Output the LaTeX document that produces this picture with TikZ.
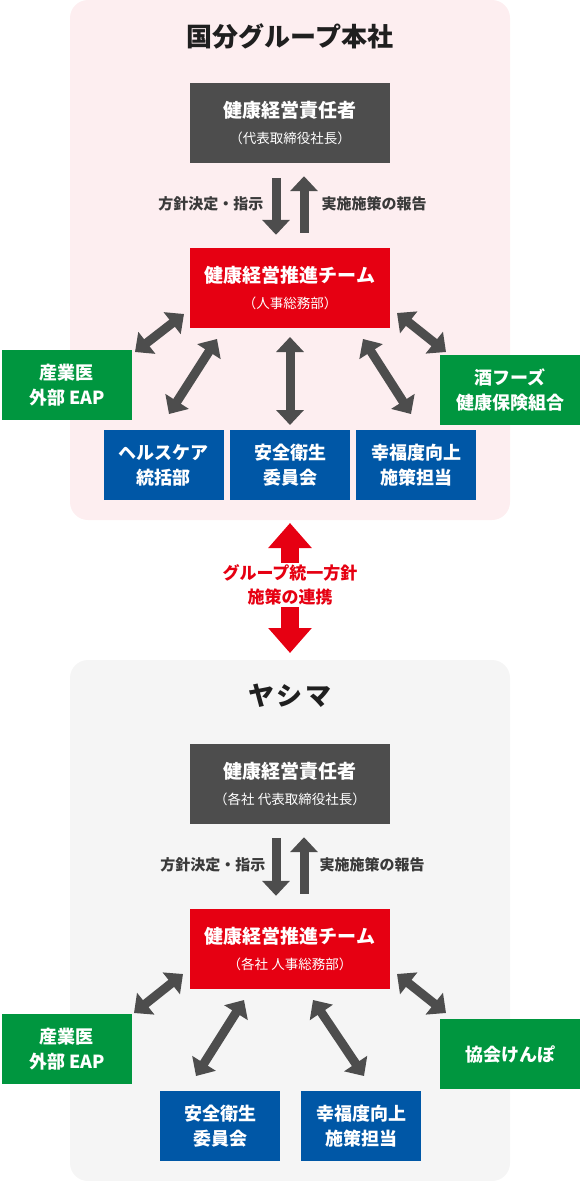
\documentclass[tikz,border=0pt]{standalone}
\usepackage{fontspec}
\setmainfont{Noto Sans CJK JP}
\usepackage{xcolor}
\usepackage{tikz}
\usetikzlibrary{arrows.meta}
\usetikzlibrary{positioning}

\definecolor{hqbg}{HTML}{FDEEF0}
\definecolor{yabg}{HTML}{F5F5F5}
\definecolor{boss}{HTML}{4D4D4D}
\definecolor{teamred}{HTML}{E60012}
\definecolor{outgreen}{HTML}{00963F}
\definecolor{unitblue}{HTML}{0057A6}
\definecolor{notegray}{HTML}{3A3A3A}

\newcommand{\subline}[1]{{\fontsize{13.5}{26}\selectfont\mdseries #1}}

\begin{document}
\begin{tikzpicture}[x=1pt,y=-1pt,
	box/.style={rectangle,inner sep=0pt,minimum width=200pt,minimum height=80pt,align=center,text=white,font=\fontsize{19}{26}\selectfont\bfseries},
	headbox/.style={box,fill=boss},
	teambox/.style={box,fill=teamred},
	outbox/.style={box,fill=outgreen,minimum width=130pt,minimum height=70pt,font=\fontsize{18}{25}\selectfont\bfseries},
	unitbox/.style={box,fill=unitblue,minimum width=120pt,minimum height=70pt,font=\fontsize{18}{25}\selectfont\bfseries},
	tip/.tip={Triangle[width=27pt,length=15pt]},
	flow/.style={line width=9pt,draw=boss,-tip},
	both/.style={line width=9pt,draw=boss,tip-tip},
	title/.style={font=\fontsize{26}{30}\selectfont\bfseries,text=black!88},
	note/.style={font=\fontsize{15}{18}\selectfont\bfseries,text=notegray}]
	
	\useasboundingbox (0,0) rectangle (580,1181);
	
	% panels
	\fill[hqbg,rounded corners=18pt] (70,0) rectangle (510,520);
	\fill[yabg,rounded corners=18pt] (70,660) rectangle (510,1181);
	
	% head office
	\node[title] (hq) at (290,36) {国分グループ本社};
	\node[headbox] (ceo1) at (290,123) {健康経営責任者\\\subline{（代表取締役社長）}};
	\node[teambox] (team1) at (290,288) {健康経営推進チーム\\\subline{（人事総務部）}};
	\node[outbox] (eap1) at (67,385) {産業医\\外部 EAP};
	\node[outbox,minimum width=140pt] (union1) at (510,390) {酒フーズ\\健康保険組合};
	\node[unitbox] (safety1) at (290,465) {安全衛生\\委員会};
	\node[unitbox] (care1) [left=6pt of safety1] {ヘルスケア\\統括部};
	\node[unitbox] (happy1) [right=6pt of safety1] {幸福度向上\\施策担当};
	
	% instructions and reports
	\draw[flow,shorten <=15pt,shorten >=13pt] ([xshift=-14pt]ceo1.south) -- ([xshift=-14pt]team1.north);
	\draw[flow,shorten <=15pt,shorten >=13pt] ([xshift=14pt]team1.north) -- ([xshift=14pt]ceo1.south);
	\node[note,anchor=east] (order1) at (267,204) {方針決定・指示};
	\node[note,anchor=west] (report1) at (318,204) {実施施策の報告};
	
	% links of team1
	\coordinate (a1) at (184,314);
	\coordinate (b1) at (135,352);
	\coordinate (c1) at (217,339);
	\coordinate (d1) at (169,414);
	\coordinate (e1) at (290,337);
	\coordinate (f1) at (290,425);
	\coordinate (g1) at (363,339);
	\coordinate (h1) at (411,414);
	\coordinate (i1) at (397,313);
	\coordinate (j1) at (446,352);
	\draw[both] (a1) -- (b1);
	\draw[both] (c1) -- (d1);
	\draw[both] (e1) -- (f1);
	\draw[both] (g1) -- (h1);
	\draw[both] (i1) -- (j1);
	
	% group link
	\coordinate (up) at (290,523);
	\coordinate (down) at (290,653);
	\draw[line width=18pt,draw=teamred,{Triangle[width=42pt,length=25pt]}-{Triangle[width=42pt,length=25pt]}] (up) -- (down);
	\node[font=\fontsize{17}{24}\selectfont\bfseries,text=teamred,align=center,fill=white,inner sep=1.5pt] (policy) at (290,585) {グループ統一方針\\施策の連携};
	
	% yashima
	\node[title] (ya) at (290,696) {ヤ\hspace{3pt}シ\hspace{3pt}マ};
	\node[headbox] (ceo2) at (290,784) {健康経営責任者\\\subline{（各社 代表取締役社長）}};
	\node[teambox] (team2) at (290,949) {健康経営推進チーム\\\subline{（各社 人事総務部）}};
	\node[outbox] (eap2) at (67,1049) {産業医\\外部 EAP};
	\node[outbox,minimum width=140pt] (kyokai2) at (510,1054) {協会けんぽ};
	\node[unitbox] (safety2) at (220,1126) {安全衛生\\委員会};
	\node[unitbox] (happy2) [right=21pt of safety2] {幸福度向上\\施策担当};
	
	\draw[flow,shorten <=14pt,shorten >=13pt] ([xshift=-14pt]ceo2.south) -- ([xshift=-14pt]team2.north);
	\draw[flow,shorten <=15pt,shorten >=13pt] ([xshift=14pt]team2.north) -- ([xshift=14pt]ceo2.south);
	\node[note,anchor=east] (order2) at (269,865) {方針決定・指示};
	\node[note,anchor=west] (report2) at (316,865) {実施施策の報告};
	
	% links of team2
	\coordinate (a2) at (183,974);
	\coordinate (b2) at (134,1013);
	\coordinate (c2) at (244,1000);
	\coordinate (d2) at (196,1076);
	\coordinate (g2) at (313,1000);
	\coordinate (h2) at (364,1076);
	\coordinate (i2) at (397,974);
	\coordinate (j2) at (446,1013);
	\draw[both] (a2) -- (b2);
	\draw[both] (c2) -- (d2);
	\draw[both] (g2) -- (h2);
	\draw[both] (i2) -- (j2);
	
\end{tikzpicture}
\end{document}
